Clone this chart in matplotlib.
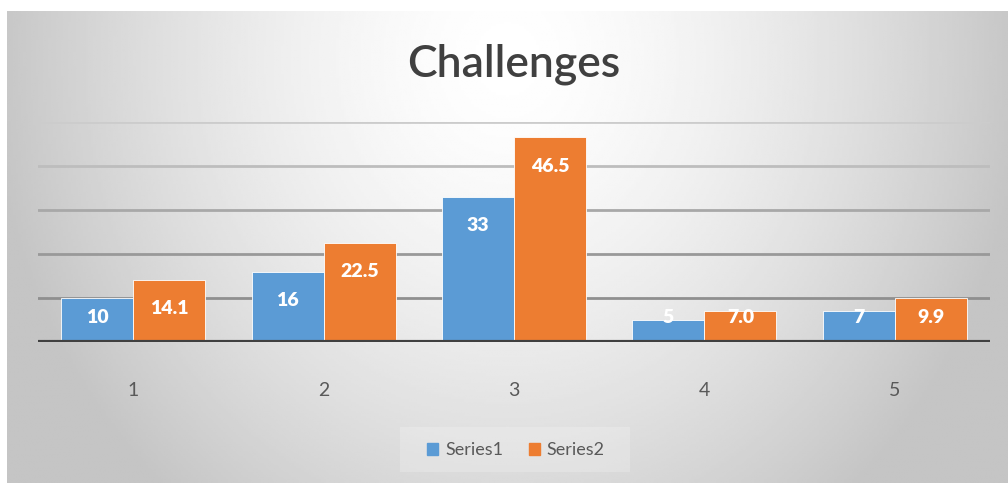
import matplotlib.pyplot as plt
import numpy as np
from matplotlib.patches import Patch, Rectangle

categories = ['1', '2', '3', '4', '5']
series1 = [10, 16, 33, 5, 7]
series2 = [14.1, 22.5, 46.5, 7.0, 9.9]
labels1 = ['10', '16', '33', '5', '7']
labels2 = ['14.1', '22.5', '46.5', '7.0', '9.9']
blue = '#5B9BD5'
orange = '#ED7D31'

fig = plt.figure(figsize=(10.08, 4.83), dpi=100, facecolor='white')

# gradient chart background
bg = fig.add_axes([7 / 1008, 0, 1 - 7 / 1008, 472 / 483])
gx, gy = np.meshgrid(np.linspace(0, 1, 400), np.linspace(0, 1, 200))
d = np.sqrt(((gx - 0.5) / 0.55) ** 2 + ((gy - 0.1) / 1.3) ** 2)
v = np.clip(1 - 0.25 * d ** 1.5, 0.77, 1.0)
bg.imshow(v, cmap='gray', vmin=0, vmax=1, aspect='auto', extent=[0, 1, 1, 0])
bg.set_xlim(0, 1)
bg.set_ylim(1, 0)
bg.axis('off')

# faint box behind legend
fig.patches.append(Rectangle((400 / 1008, 11 / 483), 230 / 1008, 45 / 483,
                             transform=fig.transFigure, color='white', alpha=0.2, lw=0))

ax = fig.add_axes([38 / 1008, 141 / 483, 952 / 1008, 220 / 483])
ax.patch.set_alpha(0)
x = np.arange(len(categories))
w = 0.378
ax.bar(x - w / 2, series1, w, color=blue, edgecolor='white', linewidth=0.6, zorder=3)
ax.bar(x + w / 2, series2, w, color=orange, edgecolor='white', linewidth=0.6, zorder=3)

for xi, val, lab in zip(x - w / 2, series1, labels1):
    ax.text(xi, max(val - 6.5, 5.6), lab, ha='center', va='center', color='white',
            fontsize=14, fontweight='heavy', family='Lato', zorder=4)
for xi, val, lab in zip(x + w / 2, series2, labels2):
    ax.text(xi, max(val - 6.5, 5.6), lab, ha='center', va='center', color='white',
            fontsize=14, fontweight='heavy', family='Lato', zorder=4)

for g, c in zip([10, 20, 30, 40, 50], ['#8f8f8f', '#999999', '#a8a8a8', '#bdbdbd', '#cccccc']):
    ax.axhline(g, color=c, lw=2, zorder=1)
ax.axhline(0, color='#404040', lw=3, zorder=5)

ax.set_xlim(-0.5, 4.5)
ax.set_ylim(0, 50)
ax.set_yticks([])
ax.set_xticks(x)
ax.set_xticklabels(categories, fontsize=14, color='#595959', family='Lato')
ax.tick_params(axis='x', length=0, pad=29)
for s in ax.spines.values():
    s.set_visible(False)

fig.text(0.510, 0.866, 'Challenges', ha='center', va='center', fontsize=32,
         fontweight='semibold', color='#404040', family='Lato')

handles = [Patch(color=blue), Patch(color=orange)]
fig.legend(handles, ['Series1', 'Series2'], loc='center', bbox_to_anchor=(0.512, 0.068),
           ncol=2, frameon=False, labelcolor='#595959',
           handlelength=0.6, handleheight=0.6, handletextpad=0.4, columnspacing=1.4,
           prop={'family': 'Lato', 'size': 13})

fig.savefig('out.png', dpi=100)
